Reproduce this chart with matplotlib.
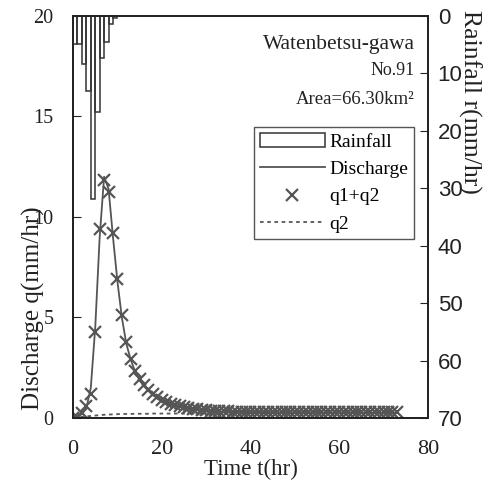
import matplotlib
matplotlib.use("Agg")
import matplotlib.pyplot as plt
from matplotlib.patches import Patch
from matplotlib.lines import Line2D

plt.rcParams['font.family'] = ['Liberation Serif', 'DejaVu Serif']

# hourly rainfall (mm/hr), bars start at t = 0
rain_t = [0, 1, 2, 3, 4, 5, 6, 7, 8, 9]
rain = [4.9, 4.9, 8.3, 13.1, 31.8, 16.8, 7.3, 4.6, 1.4, 0.3]

# hourly discharge series (mm/hr)
hours = list(range(74))
q_obs = [0.05, 0.08, 0.2, 0.5, 1.5, 4.5, 9.0, 12.0, 11.4, 9.0,
         6.8, 5.0, 3.7, 2.9, 2.3, 1.9, 1.6, 1.35, 1.15, 1.0,
         0.88, 0.78, 0.7, 0.63, 0.57, 0.52, 0.48, 0.44, 0.41, 0.38,
         0.36, 0.34, 0.33, 0.32, 0.31, 0.31, 0.30, 0.30, 0.30, 0.30,
         0.29, 0.29, 0.29, 0.29, 0.29, 0.29, 0.28, 0.28, 0.28, 0.28,
         0.28, 0.28, 0.28, 0.28, 0.28, 0.27, 0.27, 0.27, 0.27, 0.27,
         0.27, 0.27, 0.27, 0.27, 0.27, 0.26, 0.26, 0.26, 0.26, 0.26,
         0.26, 0.26, 0.26, 0.26]
q12 = [0.02, 0.05, 0.25, 0.6, 1.2, 4.3, 9.4, 11.85, 11.25, 9.2,
       6.9, 5.1, 3.8, 2.95, 2.35, 1.94, 1.62, 1.38, 1.18, 1.03,
       0.9, 0.8, 0.72, 0.65, 0.59, 0.54, 0.5, 0.46, 0.43, 0.4,
       0.38, 0.36, 0.35, 0.34, 0.33, 0.33, 0.32, 0.32, 0.32, 0.32,
       0.31, 0.31, 0.31, 0.31, 0.31, 0.31, 0.30, 0.30, 0.30, 0.30,
       0.30, 0.30, 0.30, 0.30, 0.30, 0.29, 0.29, 0.29, 0.29, 0.29,
       0.29, 0.29, 0.29, 0.29, 0.29, 0.28, 0.28, 0.28, 0.28, 0.28,
       0.28, 0.28, 0.28, 0.28]
q2 = [0.02, 0.03, 0.05, 0.08, 0.1, 0.12, 0.14, 0.16, 0.17, 0.18,
      0.19, 0.2, 0.2, 0.2, 0.21, 0.21, 0.21, 0.21, 0.22, 0.22,
      0.22, 0.22, 0.22, 0.22, 0.22, 0.22, 0.22, 0.22, 0.22, 0.22,
      0.22, 0.22, 0.22, 0.22, 0.22, 0.22, 0.22, 0.22, 0.22, 0.22,
      0.22, 0.22, 0.22, 0.22, 0.22, 0.22, 0.22, 0.22, 0.22, 0.22,
      0.22, 0.22, 0.22, 0.22, 0.22, 0.22, 0.22, 0.22, 0.22, 0.22,
      0.22, 0.22, 0.22, 0.22, 0.22, 0.22, 0.22, 0.22, 0.22, 0.22,
      0.22, 0.22, 0.22, 0.22]

x_ticks = [0, 20, 40, 60, 80]
q_ticks = [0, 5, 10, 15, 20]
r_ticks = [0, 10, 20, 30, 40, 50, 60, 70]

ink = '#222222'
grey = '#555555'

fig = plt.figure(figsize=(4.97, 4.97), dpi=100)
ax = fig.add_axes([0.147, 0.159, 0.714, 0.809])
ax2 = ax.twinx()

ax.plot(hours, q_obs, color=grey, lw=1.3)
ax.plot(hours, q12, ls='none', marker='x', ms=9, mew=1.6, color=grey)
ax.plot(hours, q2, ls=(0, (2, 2)), color=grey, lw=1.3)

ax2.bar(rain_t, rain, width=1.0, align='edge', facecolor='none',
        edgecolor='#333333', lw=1.1)

ax.set_xlim(0, 80)
ax.set_ylim(0, 20)
ax2.set_ylim(70, 0)
ax.set_xticks(x_ticks)
ax.set_yticks(q_ticks)
ax2.set_yticks(r_ticks)

ax.tick_params(axis='y', direction='in', length=6, pad=14, labelsize=14.5, colors=ink)
ax.tick_params(axis='x', direction='in', length=0, pad=16, labelsize=16, colors=ink)
ax2.tick_params(axis='y', direction='in', length=6, pad=7, labelsize=16, colors=ink)
for lab in ax2.get_yticklabels():
    lab.set_family('Liberation Sans')

for a in (ax, ax2):
    for s in a.spines.values():
        s.set_color(ink)
        s.set_linewidth(1.3)

ax.set_xlabel('Time t(hr)', fontsize=16.5, color=ink, labelpad=0)
ax.set_ylabel('Discharge q(mm/hr)', fontsize=18, color=ink, va='center')
ax.yaxis.set_label_coords(-0.113, 0.274)
ax2.set_ylabel('Rainfall r(mm/hr)', fontsize=18.5, color=ink, rotation=-90, va='center')
ax2.yaxis.set_label_coords(1.118, 0.785)

ax.text(0.963, 0.93, 'Watenbetsu-gawa', transform=ax.transAxes, ha='right', va='center',
        fontsize=15.5, color=ink)
ax.text(0.963, 0.863, 'No.91', transform=ax.transAxes, ha='right', va='center',
        fontsize=13, color=ink)
ax.text(0.963, 0.793, 'Area=66.30km²', transform=ax.transAxes, ha='right', va='center',
        fontsize=13.5, color=ink)

handles = [Patch(facecolor='none', edgecolor='#333333', lw=1.1),
           Line2D([], [], color=grey, lw=1.3),
           Line2D([], [], ls='none', marker='x', ms=9, mew=1.6, color=grey),
           Line2D([], [], ls=(0, (2, 2)), color=grey, lw=1.3)]
labels = ['Rainfall', 'Discharge', 'q1+q2', 'q2']
leg = ax2.legend(handles, labels, loc='upper left', bbox_to_anchor=(0.51, 0.723),
                 fontsize=14, frameon=True, fancybox=False, edgecolor=grey,
                 framealpha=1, borderaxespad=0, handlelength=3.35, handletextpad=0.2,
                 labelspacing=0.5, borderpad=0.3, numpoints=1)
leg.get_frame().set_linewidth(1.0)

fig.savefig('out.png', dpi=100)
